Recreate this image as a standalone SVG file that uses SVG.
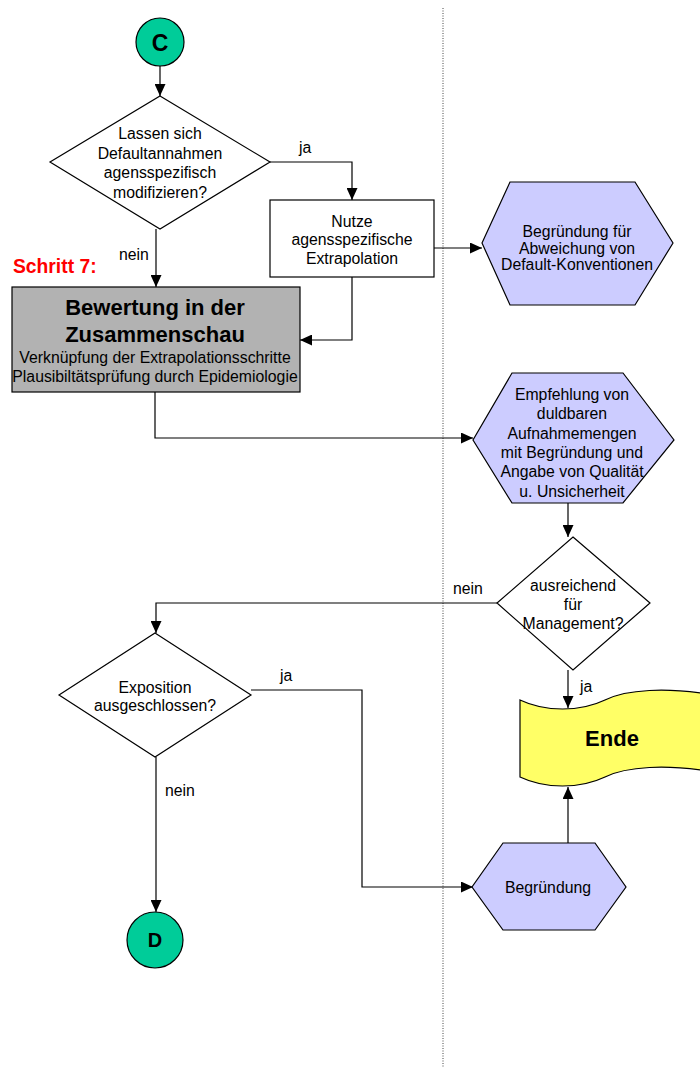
<svg xmlns="http://www.w3.org/2000/svg" width="700" height="1069" viewBox="0 0 700 1069">
  <defs>
    <marker id="arrow" viewBox="0 0 12 11" refX="12" refY="5.5" markerWidth="12" markerHeight="11" markerUnits="userSpaceOnUse" orient="auto">
      <path d="M0,0 L12,5.5 L0,11 Z" fill="#000"/>
    </marker>
    <style>
      text { font-family: "Liberation Sans", Arial, sans-serif; fill: #000; }
      .t { font-size: 15.8px; text-anchor: middle; }
      .lbl { font-size: 15.8px; }
      .shape { stroke: #000; stroke-width: 1.2; }
      .conn { fill: none; stroke: #000; stroke-width: 1.2; marker-end: url(#arrow); }
      .hex { fill: #ccccff; }
      .conn-circle { fill: #00cc99; }
      .bold { font-weight: bold; text-anchor: middle; }
    </style>
  </defs>
  <rect width="700" height="1069" fill="#fff"/>

  <!-- lane separator -->
  <line x1="443" y1="8" x2="443" y2="1068" stroke="#444" stroke-width="1" stroke-dasharray="1,1.5"/>

  <g id="connectors">
    <path class="conn" d="M160,66 L160,96"/>
    <path class="conn" d="M270,162 L352,162 L352,200"/>
    <path class="conn" d="M156,229 L156,287"/>
    <path class="conn" d="M434,248 L482,248"/>
    <path class="conn" d="M352,277 L352,340 L300,340"/>
    <path class="conn" d="M155,392 L155,438 L473,438"/>
    <path class="conn" d="M568,503 L568,537"/>
    <path class="conn" d="M497,603 L156,603 L156,633"/>
    <path class="conn" d="M568,670 L568,708"/>
    <path class="conn" d="M251,690 L362,690 L362,887 L473,887"/>
    <path class="conn" d="M156,757 L156,912"/>
    <path class="conn" d="M568,843 L568,787"/>
    <text class="lbl" x="299" y="153">ja</text>
    <text class="lbl" x="119" y="260">nein</text>
    <text class="lbl" x="453" y="594">nein</text>
    <text class="lbl" x="580" y="692">ja</text>
    <text class="lbl" x="280" y="681">ja</text>
    <text class="lbl" x="165" y="796">nein</text>
  </g>

  <g id="connector-c">
    <circle class="shape conn-circle" cx="160" cy="42" r="24"/>
    <text class="bold" x="160" y="51" font-size="23">C</text>
  </g>

  <g id="decision-defaults">
    <polygon class="shape" fill="#fff" points="160,96 270,162 160,229 50,162"/>
    <text class="t" x="160" y="139">Lassen sich</text>
    <text class="t" x="160" y="159">Defaultannahmen</text>
    <text class="t" x="160" y="178">agensspezifisch</text>
    <text class="t" x="160" y="198">modifizieren?</text>
  </g>

  <g id="process-extrapolation">
    <rect class="shape" fill="#fff" x="270" y="200" width="164" height="77"/>
    <text class="t" x="352" y="227">Nutze</text>
    <text class="t" x="352" y="245">agensspezifische</text>
    <text class="t" x="352" y="264">Extrapolation</text>
  </g>

  <g id="step-7">
    <text x="13" y="273" font-size="19.3" font-weight="bold" style="fill:#ff0000">Schritt 7:</text>
    <rect class="shape" fill="#b2b2b2" x="12" y="287" width="288" height="105"/>
    <text class="bold" x="155" y="315" font-size="22">Bewertung in der</text>
    <text class="bold" x="155" y="342" font-size="22">Zusammenschau</text>
    <text class="t" x="155" y="363">Verknüpfung der Extrapolationsschritte</text>
    <text class="t" x="155" y="382">Plausibiltätsprüfung durch Epidemiologie</text>
  </g>

  <g id="output-deviation">
    <polygon class="shape hex" points="510,182 635,182 673,243 635,305 510,305 482,243"/>
    <text class="t" x="577" y="236.5">Begründung für</text>
    <text class="t" x="577" y="253.5">Abweichung von</text>
    <text class="t" x="577" y="270">Default-Konventionen</text>
  </g>

  <g id="output-recommendation">
    <polygon class="shape hex" points="512,373 623,373 674,440 623,503 512,503 473,440"/>
    <text class="t" x="572" y="400">Empfehlung von</text>
    <text class="t" x="572" y="419.3">duldbaren</text>
    <text class="t" x="572" y="438.6">Aufnahmemengen</text>
    <text class="t" x="572" y="458">mit Begründung und</text>
    <text class="t" x="572" y="477.3">Angabe von Qualität</text>
    <text class="t" x="572" y="496.6">u. Unsicherheit</text>
  </g>

  <g id="decision-management">
    <polygon class="shape" fill="#fff" points="573,537 650,603 573,670 497,603"/>
    <text class="t" x="573" y="591">ausreichend</text>
    <text class="t" x="573" y="610">für</text>
    <text class="t" x="573" y="629.3">Management?</text>
  </g>

  <g id="end">
    <path class="shape" fill="#ffff66" d="M520,700 C545,712 580,712 605,700 C625,690 665,686 720,696 L720,773 C665,763 625,767 605,777 C580,789 545,789 520,777 Z"/>
    <text class="bold" x="612" y="746" font-size="22">Ende</text>
  </g>

  <g id="decision-exposure">
    <polygon class="shape" fill="#fff" points="155,633 251,695 155,757 59,695"/>
    <text class="t" x="155" y="692.7">Exposition</text>
    <text class="t" x="155" y="710.7">ausgeschlossen?</text>
  </g>

  <g id="output-justification">
    <polygon class="shape hex" points="503,843 595,843 626,887 595,930 503,930 472,887"/>
    <text class="t" x="548" y="892.7">Begründung</text>
  </g>

  <g id="connector-d">
    <circle class="shape conn-circle" cx="155" cy="940" r="28"/>
    <text class="bold" x="155" y="947" font-size="20">D</text>
  </g>
</svg>
